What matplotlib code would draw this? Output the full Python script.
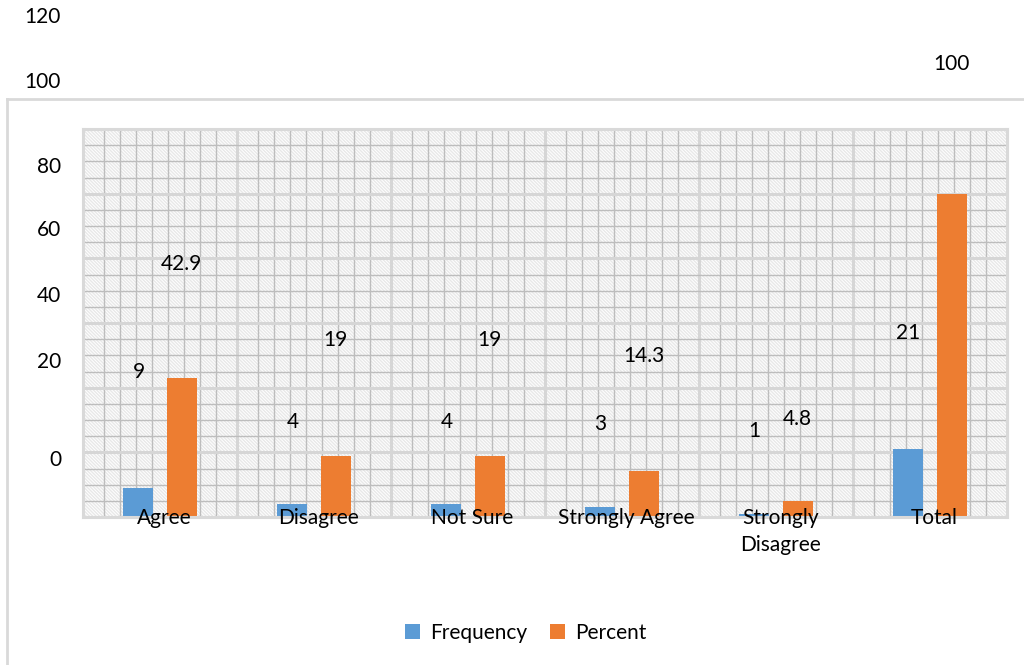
import matplotlib
matplotlib.use("Agg")
import matplotlib.pyplot as plt
from matplotlib.patches import Rectangle, Patch
from matplotlib.lines import Line2D
from matplotlib.ticker import MultipleLocator, FixedLocator
import matplotlib.transforms as mtransforms
import numpy as np

plt.rcParams['font.family'] = ['Lato', 'DejaVu Sans']
plt.rcParams['hatch.linewidth'] = 1.0

# ---- data ----
categories = ["Agree", "Disagree", "Not Sure", "Strongly Agree", "Strongly\nDisagree", "Total"]
frequency = [9, 4, 4, 3, 1, 21]
percent = [42.9, 19, 19, 14.3, 4.8, 100]
ytick_labels = ["0", "20", "40", "60", "80", "100", "120"]

# where each value label sits (data units on the value axis)
freq_label_y = [44.9, 29.4, 29.4, 28.8, 26.6, 56.9]
pct_label_y = [78.2, 54.7, 54.7, 49.8, 30.3, 140.1]
# vertical pixel centres of the value-axis labels
ytick_label_py = [460, 362, 296, 230, 167, 82, 17]

W, H = 1024, 665
fig = plt.figure(figsize=(W / 100, H / 100), dpi=100)
fig.patch.set_facecolor("white")

def fx(px):
    return px / W

def fy(py):
    return 1 - py / H

# outer chart frame (top and left edges)
frame_col = "#d9d9d9"
fig.add_artist(Line2D([fx(7), 1.0], [fy(99), fy(99)], color=frame_col, lw=2, transform=fig.transFigure))
fig.add_artist(Line2D([fx(7), fx(7)], [fy(99), 0.0], color=frame_col, lw=2, transform=fig.transFigure))

left, right, top, bottom = 83, 1007, 129, 517
ax = fig.add_axes([fx(left), fy(bottom), (right - left) / W, (bottom - top) / H])
ax.set_xlim(-0.5, len(categories) - 0.5)
ax.set_ylim(0, 120)

# hatched plot-area fill
ax.add_patch(Rectangle((0, 0), 1, 1, transform=ax.transAxes, facecolor="white",
                       edgecolor="#e8e8e8", hatch="\\" * 10, lw=0, zorder=0.1))

# gridlines
ax.yaxis.set_major_locator(MultipleLocator(20))
ax.yaxis.set_minor_locator(MultipleLocator(5))
n = len(categories)
ax.xaxis.set_major_locator(FixedLocator(np.arange(n - 1) + 0.5))
minor_x = [i - 0.5 + 0.136 + k * 0.104 for i in range(n) for k in range(8)]
ax.xaxis.set_minor_locator(FixedLocator(minor_x))
ax.grid(which="major", color="#d6d6d6", lw=2.2, zorder=0.5)
ax.grid(which="minor", color="#bdbdbd", lw=1.0, zorder=0.5)
ax.set_axisbelow(True)
ax.tick_params(which="both", length=0, labelleft=False, labelbottom=False)
for s in ax.spines.values():
    s.set_color("#d9d9d9")
    s.set_linewidth(2.2)

# bars
x = np.arange(n)
bw = 0.195
off = 0.14
blue, orange = "#5B9BD5", "#ED7D31"
ax.bar(x - off, frequency, width=bw, color=blue, zorder=2, label="Frequency")
ax.bar(x + off, percent, width=bw, color=orange, zorder=2, label="Percent")

fs = 15
# value labels
for i in range(n):
    ax.text(x[i] - off, freq_label_y[i], f"{frequency[i]:g}", ha="center", va="center",
            fontsize=fs, color="black", zorder=4, clip_on=False)
    ax.text(x[i] + off, pct_label_y[i], f"{percent[i]:g}", ha="center", va="center",
            fontsize=fs, color="black", zorder=4, clip_on=False)

# category labels sitting on the baseline
shift = mtransforms.ScaledTranslation(0, 9 / 100, fig.dpi_scale_trans)
for i, c in enumerate(categories):
    ax.text(x[i] + 0.03, 0, c, ha="center", va="top", fontsize=fs, color="black",
            zorder=4, linespacing=1.45, transform=ax.transData + shift)

# value-axis labels
for lab, py in zip(ytick_labels, ytick_label_py):
    fig.text(fx(61), fy(py), lab, ha="right", va="center", fontsize=fs, color="black")

# legend
handles = [Patch(facecolor=blue), Patch(facecolor=orange)]
fig.legend(handles, ["Frequency", "Percent"], loc="center", bbox_to_anchor=(fx(526), fy(633)),
           ncol=2, frameon=False, fontsize=fs, handlelength=0.7, handleheight=0.7,
           handletextpad=0.5, columnspacing=1.1)

fig.savefig("out.png", dpi=100, facecolor="white")
